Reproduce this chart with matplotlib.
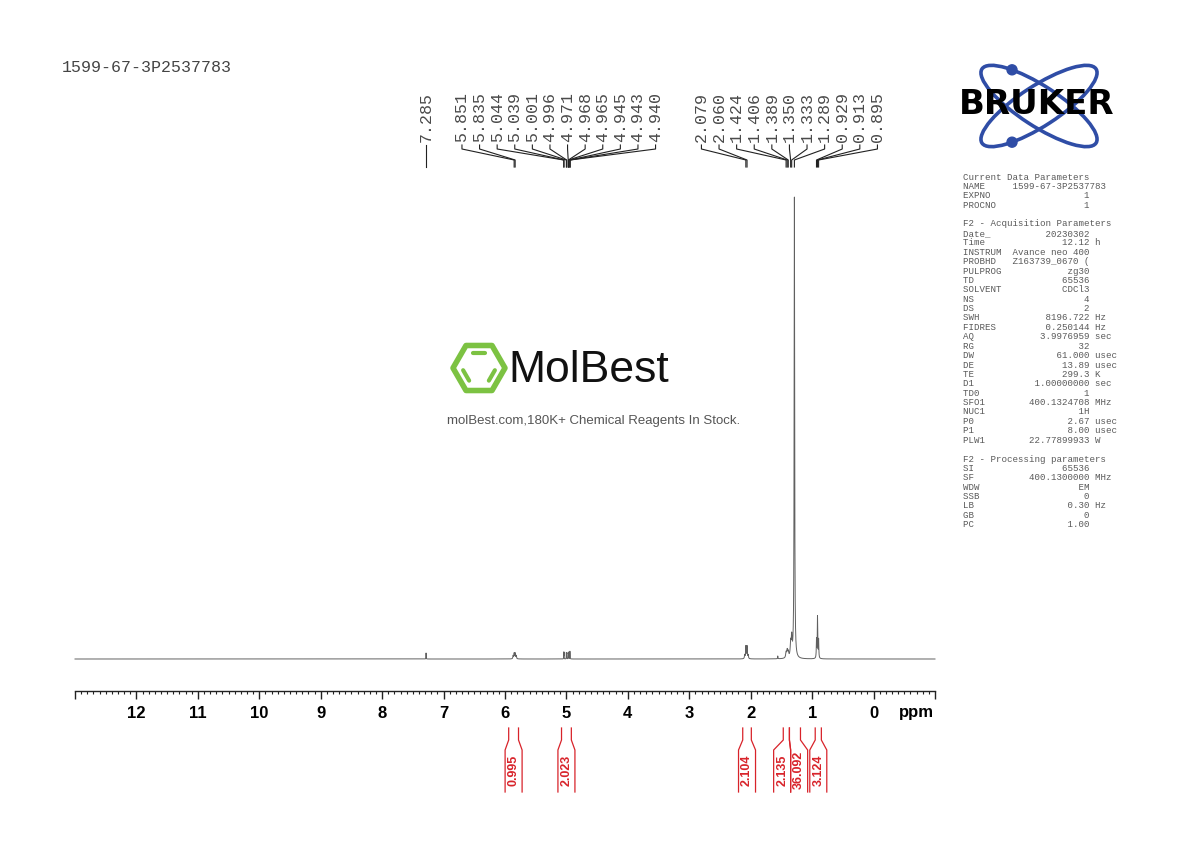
import matplotlib
matplotlib.use("Agg")
import matplotlib.pyplot as plt
import numpy as np
from matplotlib.patches import Ellipse, Circle, RegularPolygon
from matplotlib.ticker import MultipleLocator
from matplotlib.transforms import blended_transform_factory

sample_id = "1599-67-3P2537783"

# signal lines of the 1H spectrum: shift (ppm), height (% of tallest), half width (ppm)
line_ppm = [7.285,
            5.868, 5.851, 5.835, 5.818,
            5.044, 5.039, 5.001, 4.996, 4.971, 4.968, 4.965, 4.945, 4.943, 4.940,
            2.098, 2.079, 2.060, 2.041,
            1.560, 1.424, 1.406, 1.389, 1.350, 1.333, 1.289,
            0.929, 0.913, 0.895]
line_height = [1.3,
               0.7, 1.2, 1.2, 0.7,
               1.4, 1.4, 1.3, 1.3, 1.0, 1.1, 1.0, 1.0, 1.1, 1.0,
               0.8, 2.7, 2.7, 0.8,
               0.6, 1.2, 1.6, 1.2, 3.0, 4.0, 100.0,
               4.0, 9.0, 4.0]
line_hw = [0.002,
           0.005, 0.005, 0.005, 0.005,
           0.0015, 0.0015, 0.0015, 0.0015, 0.0015, 0.0015, 0.0015, 0.0015, 0.0015, 0.0015,
           0.005, 0.005, 0.005, 0.005,
           0.003, 0.008, 0.008, 0.008, 0.008, 0.008, 0.005,
           0.004, 0.004, 0.004]

# peak picking labels
pick_groups = [
    [7.285],
    [5.851, 5.835, 5.044, 5.039, 5.001, 4.996, 4.971, 4.968, 4.965, 4.945, 4.943, 4.940],
    [2.079, 2.060, 1.424, 1.406, 1.389, 1.350, 1.333, 1.289, 0.929, 0.913, 0.895],
]

# integrals
integral_from = [5.94, 5.08, 2.13, 1.47, 1.37, 0.95]
integral_to = [5.78, 4.92, 1.99, 1.37, 1.19, 0.85]
integral_value = ["0.995", "2.023", "2.104", "2.135", "36.092", "3.124"]

params = [
    "Current Data Parameters",
    ("NAME", "1599-67-3P2537783", ""),
    ("EXPNO", "1", ""),
    ("PROCNO", "1", ""),
    "",
    "F2 - Acquisition Parameters",
    ("Date_", "20230302", ""),
    ("Time", "12.12", "h"),
    ("INSTRUM", "Avance neo 400", ""),
    ("PROBHD", "Z163739_0670 (", ""),
    ("PULPROG", "zg30", ""),
    ("TD", "65536", ""),
    ("SOLVENT", "CDCl3", ""),
    ("NS", "4", ""),
    ("DS", "2", ""),
    ("SWH", "8196.722", "Hz"),
    ("FIDRES", "0.250144", "Hz"),
    ("AQ", "3.9976959", "sec"),
    ("RG", "32", ""),
    ("DW", "61.000", "usec"),
    ("DE", "13.89", "usec"),
    ("TE", "299.3", "K"),
    ("D1", "1.00000000", "sec"),
    ("TD0", "1", ""),
    ("SFO1", "400.1324708", "MHz"),
    ("NUC1", "1H", ""),
    ("P0", "2.67", "usec"),
    ("P1", "8.00", "usec"),
    ("PLW1", "22.77899933", "W"),
    "",
    "F2 - Processing parameters",
    ("SI", "65536", ""),
    ("SF", "400.1300000", "MHz"),
    ("WDW", "EM", ""),
    ("SSB", "0", ""),
    ("LB", "0.30", "Hz"),
    ("GB", "0", ""),
    ("PC", "1.00", ""),
]

W, H = 1190, 842
fig = plt.figure(figsize=(W / 100, H / 100), dpi=100)
fig.patch.set_facecolor("white")

# spectrum axes, pixel box: x 75..935, y 170..691
ax = fig.add_axes([75 / W, (H - 691) / H, 860 / W, (691 - 170) / H])
ax.set_xlim(13, -1)
px_per_unit = (659 - 198) / 100.0
ax.set_ylim(-(691 - 659) / px_per_unit, (659 - 170) / px_per_unit)

ppm = np.linspace(13, -1, 140001)
spec = np.zeros_like(ppm)
for p, h, w in zip(line_ppm, line_height, line_hw):
    spec += h * w ** 2 / ((ppm - p) ** 2 + w ** 2)
ax.plot(ppm, spec, color="#606060", lw=0.7, clip_on=False)

for s in ["top", "left", "right"]:
    ax.spines[s].set_visible(False)
ax.spines["bottom"].set_linewidth(1.0)
ax.spines["bottom"].set_color("#222222")
ax.set_yticks([])
major = list(range(-1, 14))
ax.set_xticks(major)
ax.set_xticklabels([str(t) if 0 <= t <= 12 else "" for t in major],
                   fontweight="bold", family="Liberation Sans", fontsize=12)
ax.xaxis.set_minor_locator(MultipleLocator(0.1))
ax.tick_params(axis="x", which="major", direction="out", length=6, width=1, pad=4.5, color="#222222")
ax.tick_params(axis="x", which="minor", direction="out", length=2.5, width=0.8, color="#222222")
ax.patch.set_alpha(0)

# overlay in figure pixels (y down)
deco = fig.add_axes([0, 0, 1, 1])
deco.set_xlim(0, W)
deco.set_ylim(H, 0)
deco.axis("off")
mix = blended_transform_factory(ax.transData, deco.transData)


def to_px(vals):
    pts = np.column_stack([vals, np.zeros(len(vals))])
    return deco.transData.inverted().transform(ax.transData.transform(pts))[:, 0]


ax.text(-0.7, 712, "ppm", transform=mix, ha="center", va="center",
        fontweight="bold", family="Liberation Sans", fontsize=12)

# title
deco.text(62, 67, sample_id, family="Liberation Mono", fontsize=12, color="#444444",
          ha="left", va="center")

# peak labels
for grp in pick_groups:
    px = to_px(grp)
    n = len(grp)
    lx = px.mean() + (np.arange(n) - (n - 1) / 2) * 17.6
    for v, p, x in zip(grp, px, lx):
        deco.text(x, 142, f"{v:.3f}", rotation=90, ha="center", va="bottom",
                  family="Liberation Mono", fontsize=12, color="#4a4a4a")
        deco.plot([x, x, p, p], [145, 149, 160, 167], color="#222222", lw=0.8)

# integrals
x1 = to_px(integral_from)
x2 = to_px(integral_to)
centers = (x1 + x2) / 2
for _ in range(20):
    for k in range(len(centers) - 1):
        gap = centers[k + 1] - centers[k]
        if gap < 17:
            d = (17 - gap) / 2
            centers[k] -= d
            centers[k + 1] += d
red = "#d8232a"
for a, b, c, val in zip(x1, x2, centers, integral_value):
    deco.plot([a, a, c - 8.5, c - 8.5], [728, 740, 750, 792], color=red, lw=0.9)
    deco.plot([b, b, c + 8.5, c + 8.5], [728, 740, 750, 792], color=red, lw=0.9)
    deco.text(c, 770, val, rotation=90, ha="center", va="center", color=red,
              fontweight="bold", family="Liberation Sans", fontsize=9)

# acquisition parameters
for i, item in enumerate(params):
    if isinstance(item, tuple):
        name, value, unit = item
        line = f"{name:<8} {value:>14} {unit}".rstrip()
    else:
        line = item
    if line:
        deco.text(963, 177 + i * 9.4, line, family="Liberation Mono", fontsize=6.6,
                  color="#5a5a5a", ha="left", va="center")

# Bruker logo: two tilted orbits with a dot on each
blue = "#2f4da6"
cx, cy, ea, eb, th = 1039, 106, 68, 20, 33
t_dot = np.radians(-128.5)
for sign in (1, -1):
    deco.add_patch(Ellipse((cx, cy), 2 * ea, 2 * eb, angle=sign * th, fill=False,
                           edgecolor=blue, lw=2.6))
    r = np.radians(th)
    dx = ea * np.cos(t_dot) * np.cos(r) - eb * np.sin(t_dot) * np.sin(r)
    dy = ea * np.cos(t_dot) * np.sin(r) + eb * np.sin(t_dot) * np.cos(r)
    deco.add_patch(Circle((cx + dx, cy + sign * dy), 5, color=blue))
deco.text(1037, 105, "BRUKER", fontweight="bold", family="DejaVu Sans", fontsize=24.5,
          color="black", ha="center", va="center")

# MolBest watermark
green = "#7cc242"
hx, hy, R = 479, 368, 26
deco.add_patch(RegularPolygon((hx, hy), 6, radius=R, orientation=np.pi / 6, fill=False,
                              edgecolor=green, lw=4, joinstyle="round"))
ang = np.radians([0, 60, 120, 180, 240, 300])
vx = hx + R * np.cos(ang)
vy = hy + R * np.sin(ang)
for k0, k1 in [(4, 5), (0, 1), (2, 3)]:
    pa = np.array([hx + 0.66 * (vx[k0] - hx), hy + 0.66 * (vy[k0] - hy)])
    pb = np.array([hx + 0.66 * (vx[k1] - hx), hy + 0.66 * (vy[k1] - hy)])
    q0 = pa + 0.15 * (pb - pa)
    q1 = pa + 0.85 * (pb - pa)
    deco.plot([q0[0], q1[0]], [q0[1], q1[1]], color=green, lw=3, solid_capstyle="round")
deco.text(508, 371, "MolBest", family="Liberation Sans",
          fontsize=32, color="#111111", ha="left", va="center")
deco.text(594, 421, "molBest.com,180K+ Chemical Reagents In Stock.", family="Liberation Sans",
          fontsize=9.5, color="#555555", ha="center", va="center")

fig.savefig("out.png", dpi=100)
